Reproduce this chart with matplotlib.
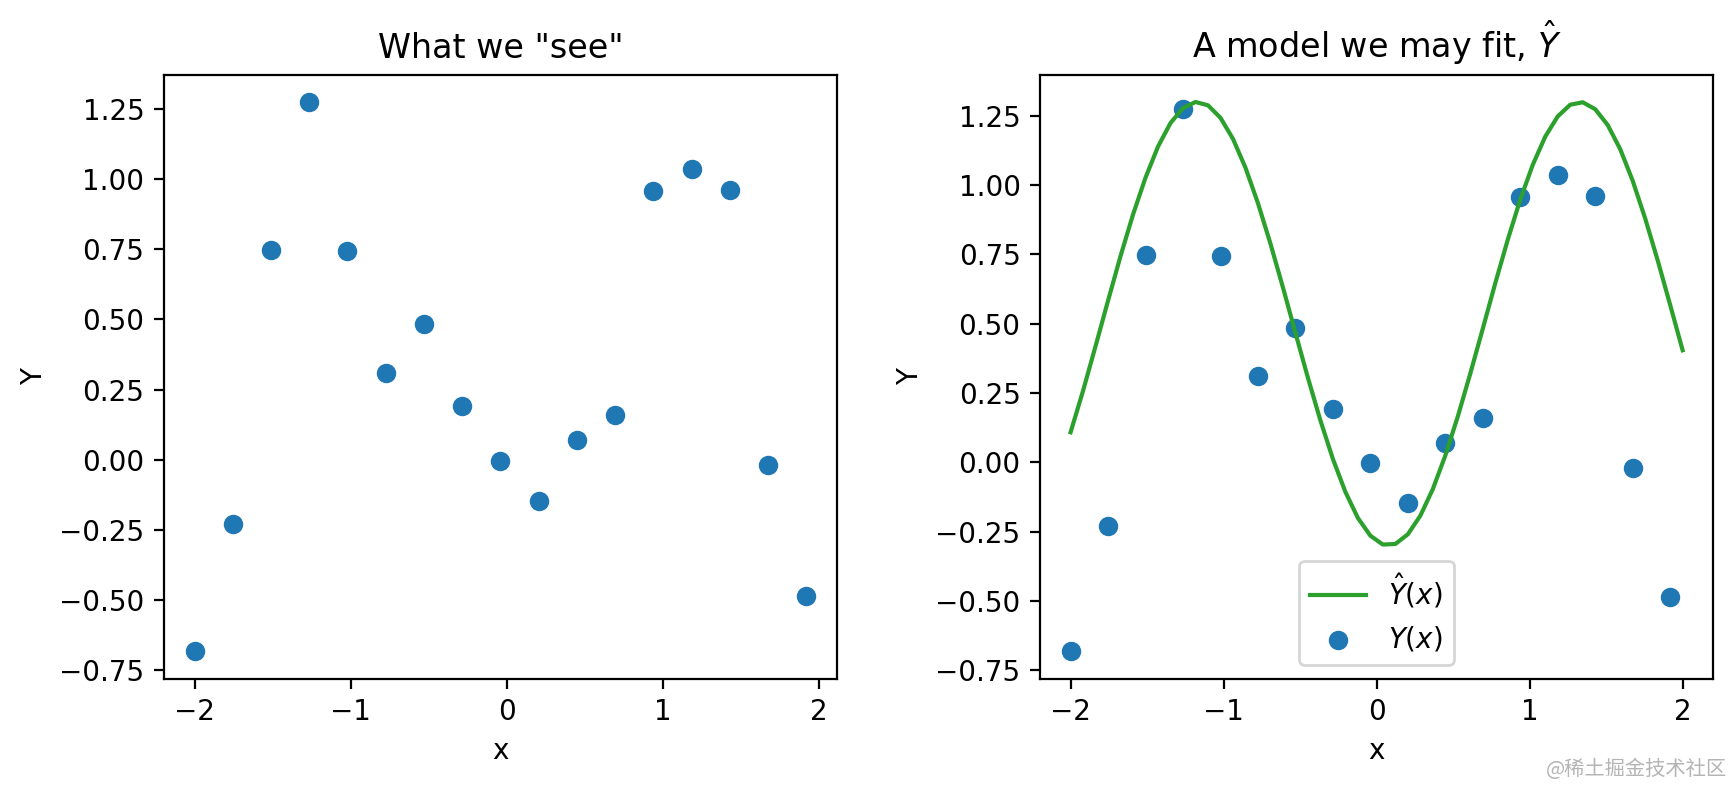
import matplotlib
matplotlib.use("Agg")
import matplotlib.pyplot as plt

# sample positions and noisy observations
x_obs = [-2.0, -1.755, -1.510, -1.265, -1.020, -0.776, -0.531, -0.286, -0.041,
         0.204, 0.449, 0.694, 0.939, 1.184, 1.429, 1.673, 1.918]
y_obs = [-0.682, -0.229, 0.749, 1.275, 0.745, 0.311, 0.485, 0.193, -0.004,
         -0.146, 0.071, 0.158, 0.958, 1.035, 0.960, -0.020, -0.485]

# fitted curve, 50 points from -2 to 2
x_fit = [-2.0 + i * 4.0 / 49 for i in range(50)]
y_fit = [0.108, 0.258, 0.419, 0.583, 0.744, 0.894, 1.027, 1.139, 1.224, 1.278,
         1.300, 1.288, 1.243, 1.167, 1.063, 0.935, 0.789, 0.631, 0.467, 0.305,
         0.151, 0.012, -0.107, -0.201, -0.265, -0.297, -0.295, -0.260, -0.193, -0.097,
         0.024, 0.165, 0.320, 0.482, 0.646, 0.803, 0.948, 1.073, 1.175, 1.248,
         1.290, 1.299, 1.274, 1.217, 1.130, 1.016, 0.880, 0.729, 0.568, 0.404]

dpi = 200
fig = plt.figure(figsize=(1733 / dpi, 786 / dpi), dpi=dpi)
ax1 = fig.add_axes([0.0946, 0.1365, 0.3882, 0.7687])
ax2 = fig.add_axes([0.6001, 0.1365, 0.3885, 0.7687])

ax1.scatter(x_obs, y_obs)
ax1.set_title('What we "see"')
ax1.set_xlabel("x")
ax1.set_ylabel("Y")

ax2.plot(x_fit, y_fit, color="tab:green", label=r"$\hat{Y}(x)$")
ax2.scatter(x_obs, y_obs, label=r"$Y(x)$")
ax2.set_title(r"A model we may fit, $\hat{Y}$")
ax2.set_xlabel("x")
ax2.set_ylabel("Y")
ax2.legend(loc="lower center")

fig.text(0.9965, 0.021, "@稀土掘金技术社区", ha="right", va="center", fontsize=7.3,
         color="#b4b4b4", family=["Noto Sans CJK SC", "DejaVu Sans"])

fig.savefig("out.png", dpi=dpi)
